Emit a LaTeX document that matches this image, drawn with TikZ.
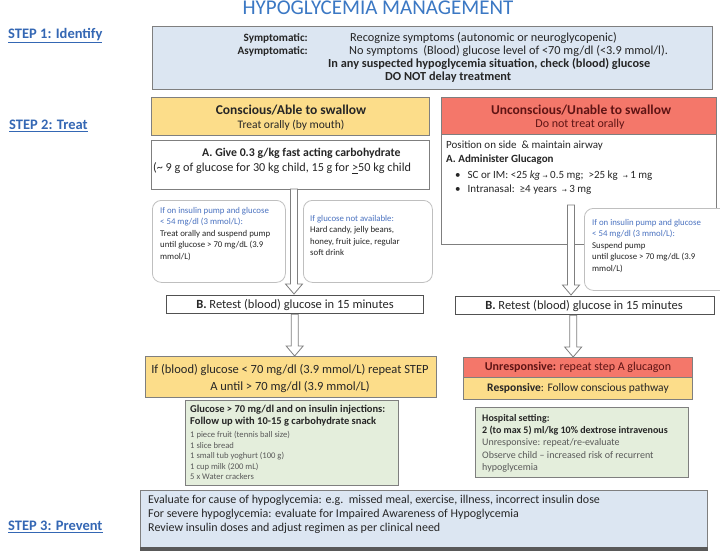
\documentclass[tikz,border=0pt]{standalone}
\usepackage{fontspec}
\setmainfont{Carlito}
\newfontfamily\symfont{DejaVu Sans}
\usetikzlibrary{calc}
\definecolor{bluefill}{HTML}{DCE6F2}
\definecolor{boxgray}{HTML}{7F7F7F}
\definecolor{yellowfill}{HTML}{FCDD8A}
\definecolor{salmonfill}{HTML}{F4776A}
\definecolor{greenfill}{HTML}{E4EEDC}
\definecolor{titleblue}{HTML}{3B78C4}
\definecolor{stepblue}{HTML}{3467B4}
\definecolor{noteblue}{HTML}{4A72C0}
\definecolor{txtdark}{HTML}{262626}
\definecolor{txtgray}{HTML}{595959}
\definecolor{darkred}{HTML}{5E1414}
\definecolor{notegray}{HTML}{BFBFBF}
\newcommand\fsz[2]{\fontsize{#1}{#2}\selectfont}
\newcommand\smallarr{{\symfont\fontsize{6}{7}\selectfont →}}
\newcommand\blockarrow[2]{%
  \draw[blockarr] let \p1=(#1), \p2=(#2) in
    ({\x1-3.5pt},{\y1}) -- ({\x1-3.5pt},{\y2+10pt}) -- ({\x1-8.5pt},{\y2+10pt}) --
    ({\x1},{\y2}) -- ({\x1+8.5pt},{\y2+10pt}) -- ({\x1+3.5pt},{\y2+10pt}) --
    ({\x1+3.5pt},{\y1}) -- cycle;}
\tikzset{
  box/.style={draw=boxgray, line width=1.1pt, inner sep=0pt, anchor=north west},
  note/.style={draw=notegray, line width=0.8pt, rounded corners=9pt, fill=white, inner sep=0pt, anchor=north west},
  txt/.style={inner sep=0pt, text=txtdark, font=\fsz{12}{14}},
  notetxt/.style={inner sep=0pt, anchor=north west, text=txtdark, align=left, font=\fsz{8.8}{11.5}},
  steplabel/.style={inner sep=0pt, anchor=west, text=stepblue, font=\fsz{14.5}{17}\bfseries},
  blockarr/.style={draw=boxgray, line width=0.8pt, fill=white},
}
\begin{document}
\begin{tikzpicture}[x=1pt,y=-1pt]
\useasboundingbox (0,0) rectangle (720,550);
\fill[white] (0,0) rectangle (720,550);

% title and step labels
\node[inner sep=0pt, text=titleblue, font=\fsz{21}{24}] (title) at (378,8) {HYPOGLYCEMIA MANAGEMENT};
\node[steplabel] (s1) at (8,36) {\underline{STEP 1: Identify}};
\node[steplabel] (s2) at (9,126) {\underline{STEP 2: Treat}};
\node[steplabel] (s3) at (8,527) {\underline{STEP 3: Prevent}};

% STEP 1 box
\node[box, fill=bluefill, minimum width=560pt, minimum height=63pt] (step1) at (152,26) {};
\node[txt, anchor=east, font=\fsz{11.2}{14}\bfseries] (sym) at (308,38) {Symptomatic:};
\node[txt, anchor=west, font=\fsz{12.3}{14}] (symt) at (350,38) {Recognize symptoms (autonomic or neuroglycopenic)};
\node[txt, anchor=east, font=\fsz{11.2}{14}\bfseries] (asym) at (308,51) {Asymptomatic:};
\node[txt, anchor=west, font=\fsz{12.3}{14}] (asymt) at (349,51) {No symptoms\ \ (Blood) glucose level of <70 mg/dl (<3.9 mmol/l).};
\node[txt, anchor=west, font=\fsz{12.3}{14}\bfseries] (chk) at (328,64) {In any suspected hypoglycemia situation, check (blood) glucose};
\node[txt, anchor=west, font=\fsz{12.3}{14}\bfseries] (dont) at (385,77) {DO NOT delay treatment};

% Conscious / Unconscious headers
\node[box, fill=yellowfill, minimum width=278pt, minimum height=38pt] (consc) at (151,97) {};
\node[txt, font=\fsz{13.5}{16}\bfseries] (conscT) at (291,110) {Conscious/Able to swallow};
\node[txt, font=\fsz{11.5}{14}] (conscS) at (291,125) {Treat orally (by mouth)};
\node[box, fill=salmonfill, minimum width=275pt, minimum height=37pt] (uncon) at (441,97) {};
\node[txt, text=darkred, font=\fsz{13.5}{16}\bfseries] (unconT) at (581,110) {Unconscious/Unable to swallow};
\node[txt, text=darkred, font=\fsz{12}{14}] (unconS) at (580,124) {Do not treat orally};

% Left A box
\node[box, fill=white, minimum width=278pt, minimum height=49pt] (AL) at (151,140) {};
\node[txt, anchor=west, font=\fsz{11.8}{14}\bfseries] (ALt) at (202,153) {A. Give 0.3 g/kg fast acting carbohydrate};
\node[txt, anchor=west, font=\fsz{12.2}{14}] (ALs) at (153,168) {(\textasciitilde{} 9 g of glucose for 30 kg child, 15 g for \underline{>}50 kg child};

% Right A box
\node[box, fill=white, minimum width=275pt, minimum height=110pt] (AR) at (441,134) {};
\node[txt, anchor=west, font=\fsz{11}{13}] (ARp) at (446,146) {Position on side\ \ \& maintain airway};
\node[txt, anchor=west, font=\fsz{11}{13}\bfseries] (ARt) at (446,160) {A. Administer Glucagon};
\node[txt, anchor=west, font=\fsz{11}{13}] (ARb1) at (455,176) {\textbullet\hspace{7pt}SC or IM: <25 \textit{kg} \smallarr{} 0.5 mg;\ \ >25 kg \ \smallarr{} 1 mg};
\node[txt, anchor=west, font=\fsz{11}{13}] (ARb2) at (455,190) {\textbullet\hspace{7pt}Intranasal:\ \ ≥4 years \ \smallarr{} 3 mg};

% left notes
\node[note, minimum width=133pt, minimum height=82pt] (n1) at (152,200) {};
\node[notetxt] (n1t) at (160,207) {\textcolor{noteblue}{If on insulin pump and glucose}\\\textcolor{noteblue}{< 54 mg/dl (3 mmol/L):}\\Treat orally and suspend pump\\until glucose > 70 mg/dL (3.9\\mmol/L)};
\node[note, minimum width=129pt, minimum height=82pt] (n2) at (303,200) {};
\node[notetxt] (n2t) at (310,215) {\textcolor{noteblue}{If glucose not available:}\\Hard candy, jelly beans,\\honey, fruit juice, regular\\soft drink};

% B boxes
\node[box, fill=white, line width=1.3pt, draw=txtdark!80, minimum width=257pt, minimum height=18pt] (BL) at (166,295) {};
\node[txt, font=\fsz{12.5}{14}] (BLt) at (295,304.5) {\textbf{B.} Retest (blood) glucose in 15 minutes};
\node[box, fill=white, line width=1.3pt, draw=txtdark!80, minimum width=259pt, minimum height=18pt] (BR) at (455,296) {};
\node[txt, font=\fsz{12.5}{14}] (BRt) at (584,305.5) {\textbf{B.} Retest (blood) glucose in 15 minutes};

% big arrows
\coordinate (aL1) at (294,189);
\coordinate (aL2) at (294,294);
\blockarrow{aL1}{aL2}
\coordinate (aR1) at (571,205);
\coordinate (aR2) at (571,295);
\blockarrow{aR1}{aR2}

% right note
\node[note, minimum width=145pt, minimum height=82pt] (n3) at (584,208) {};
\node[notetxt] (n3t) at (592,219) {\textcolor{noteblue}{If on insulin pump and glucose}\\\textcolor{noteblue}{< 54 mg/dl (3 mmol/L):}\\Suspend pump\\until glucose > 70 mg/dL (3.9\\mmol/L)};

% results left
\node[box, fill=yellowfill, minimum width=291pt, minimum height=41pt] (RL) at (145,356) {};
\node[txt, align=center, font=\fsz{12.5}{17}] (RLt) at (290,378) {If (blood) glucose < 70 mg/dl (3.9 mmol/L) repeat STEP\\A until > 70 mg/dl (3.9 mmol/L)};
\coordinate (sL1) at ($(BL.south)+(-0.5,0)$);
\coordinate (sL2) at (294.5,356);
\blockarrow{sL1}{sL2}

\node[box, fill=greenfill, line width=0.9pt, minimum width=213pt, minimum height=85pt] (GL) at (185,400) {};
\node[inner sep=0pt, anchor=north west, align=left, text=txtdark, font=\fsz{10.5}{12}\bfseries] (GLt) at (190,405) {Glucose > 70 mg/dl and on insulin injections:\\Follow up with 10-15 g carbohydrate snack};
\node[inner sep=0pt, anchor=north west, align=left, text=txtgray, font=\fsz{8.6}{10.5}] (GLl) at (190,431) {1 piece fruit (tennis ball size)\\1 slice bread\\1 small tub yoghurt (100 g)\\1 cup milk (200 mL)\\5 x Water crackers};

% results right
\node[box, fill=salmonfill, line width=0.9pt, minimum width=229pt, minimum height=20pt] (UR) at (463,357) {};
\node[txt, text=darkred, font=\fsz{12}{14}] (URt) at (578,367.5) {\textbf{Unresponsive:} repeat step A glucagon};
\node[box, fill=yellowfill, line width=0.9pt, minimum width=229pt, minimum height=22pt] (RR) at (463,377) {};
\node[txt, text=txtdark, font=\fsz{11.5}{14}] (RRt) at (578,388.5) {\textbf{Responsive}: Follow conscious pathway};
\coordinate (sR1) at ($(BR.south)+(-12,0)$);
\coordinate (sR2) at (572,357);
\blockarrow{sR1}{sR2}

\node[box, fill=greenfill, line width=0.9pt, minimum width=213pt, minimum height=70pt] (GR) at (475,407) {};
\node[inner sep=0pt, anchor=north west, align=left, text=txtdark, font=\fsz{10}{12.3}] (GRt) at (482,414) {\textbf{Hospital setting:}\\\textbf{2 (to max 5) ml/kg 10\% dextrose intravenous}\\\textcolor{txtgray}{Unresponsive: repeat/re-evaluate}\\\textcolor{txtgray}{Observe child – increased risk of recurrent}\\\textcolor{txtgray}{hypoglycemia}};

% STEP 3 box
\node[box, fill=bluefill, minimum width=567pt, minimum height=58pt] (step3) at (140,490) {};
\draw[line width=3.5pt, draw=txtgray] (step3.south west) -- (step3.south east);
\node[inner sep=0pt, anchor=north west, align=left, text=txtdark, font=\fsz{12}{14.2}] (s3t) at (148,495) {Evaluate for cause of hypoglycemia: e.g.\ \ missed meal, exercise, illness, incorrect insulin dose\\For severe hypoglycemia: evaluate for Impaired Awareness of Hypoglycemia\\Review insulin doses and adjust regimen as per clinical need};
\end{tikzpicture}
\end{document}
